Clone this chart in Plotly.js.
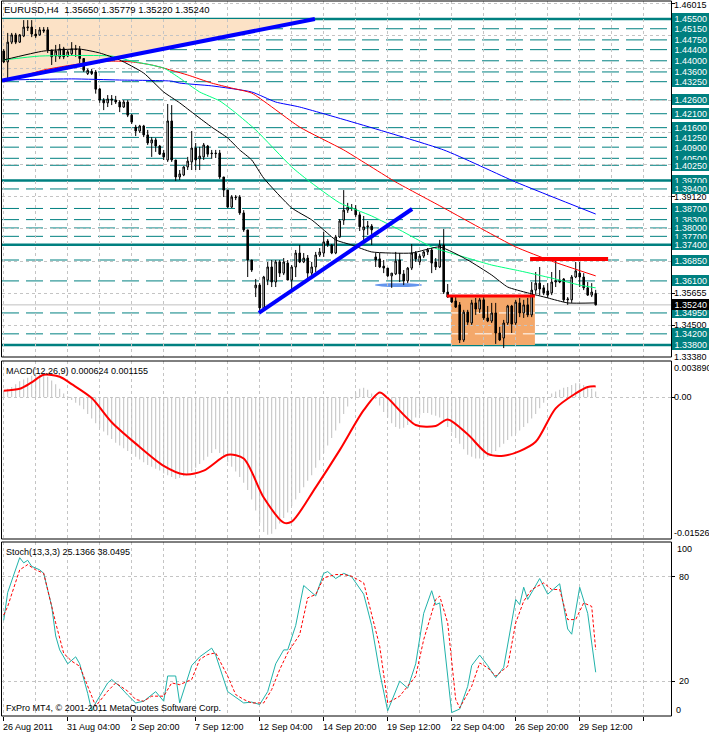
<!DOCTYPE html>
<html><head><meta charset="utf-8">
<script src="https://cdn.plot.ly/plotly-3.0.1.min.js"></script>
<style>html,body{margin:0;padding:0;background:#fff;}#chart{width:709px;height:734px;}</style>
</head><body><div id="chart"></div>
<script>
// ---------------- DATA ----------------
const title = "EURUSD,H4  1.35650 1.35779 1.35220 1.35240";
const macdTitle = "MACD(12,26,9) 0.000624 0.001155";
const stochTitle = "Stoch(13,3,3) 25.1366 38.0495";
const copyright = "FxPro MT4, \u00a9 2001-2011 MetaQuotes Software Corp.";

const timeTickIdx = [0,16,32,48,64,80,96,112,128,144];
const timeTickLabels = ["26 Aug 2011","31 Aug 04:00","2 Sep 20:00","7 Sep 12:00","12 Sep 04:00","14 Sep 20:00","19 Sep 12:00","22 Sep 04:00","26 Sep 20:00","29 Sep 12:00"];

const open = [
1.4435,1.4396,1.4467,1.4493,1.4467,1.4489,1.4518,1.4521,1.4496,1.4493,
1.4511,1.4511,1.4439,1.4417,1.4414,1.4443,1.4417,1.4425,1.4442,1.4441,
1.4408,1.4354,1.4362,1.4360,1.4299,1.4259,1.4249,1.4263,1.4259,1.4252,
1.4234,1.4252,1.4205,1.4162,1.4148,1.4166,1.4134,1.4105,1.4116,1.4094,
1.4069,1.4044,1.4184,1.4044,1.3983,1.3990,1.4019,1.4037,1.4087,1.4048,
1.4055,1.4094,1.4069,1.4069,1.4069,1.3983,1.3936,1.3875,1.3911,1.3911,
1.3854,1.3793,1.3685,1.3585,1.3595,1.3513,1.3613,1.3660,1.3606,1.3678,
1.3638,1.3674,1.3613,1.3660,1.3710,1.3678,1.3692,1.3638,1.3660,1.3703,
1.3710,1.3753,1.3739,1.3710,1.3768,1.3828,1.3864,1.3872,1.3868,1.3847,
1.3793,1.3804,1.3807,1.3696,1.3689,1.3663,1.3656,1.3628,1.3635,1.3685,
1.3635,1.3610,1.3656,1.3710,1.3678,1.3699,1.3714,1.3721,1.3678,1.3660,
1.3739,1.3570,1.3552,1.3538,1.3524,1.3398,1.3498,1.3459,1.3531,1.3509,
1.3542,1.3477,1.3466,1.3495,1.3423,1.3405,1.3459,1.3520,1.3459,1.3531,
1.3495,1.3524,1.3488,1.3577,1.3602,1.3585,1.3574,1.3567,1.3606,1.3613,
1.3617,1.3542,1.3542,1.3624,1.3638,1.3624,1.3585,1.3559,1.3565];
const high = [
1.4442,1.4500,1.4500,1.4500,1.4496,1.4546,1.4546,1.4546,1.4514,1.4521,
1.4521,1.4521,1.4439,1.4457,1.4460,1.4450,1.4439,1.4467,1.4457,1.4453,
1.4410,1.4372,1.4371,1.4367,1.4302,1.4266,1.4277,1.4277,1.4274,1.4259,
1.4259,1.4259,1.4209,1.4170,1.4170,1.4170,1.4152,1.4126,1.4123,1.4098,
1.4080,1.4245,1.4241,1.4044,1.4008,1.4022,1.4055,1.4148,1.4105,1.4091,
1.4105,1.4098,1.4080,1.4080,1.4080,1.3983,1.3936,1.3918,1.3918,1.3918,
1.3864,1.3793,1.3685,1.3617,1.3602,1.3628,1.3678,1.3685,1.3685,1.3685,
1.3692,1.3685,1.3667,1.3721,1.3739,1.3710,1.3703,1.3678,1.3714,1.3728,
1.3786,1.3760,1.3742,1.3775,1.3832,1.3936,1.3890,1.3886,1.3882,1.3857,
1.3843,1.3825,1.3814,1.3710,1.3710,1.3685,1.3656,1.3638,1.3714,1.3710,
1.3649,1.3660,1.3742,1.3717,1.3706,1.3717,1.3728,1.3728,1.3692,1.3757,
1.3796,1.3599,1.3559,1.3556,1.3534,1.3506,1.3506,1.3542,1.3549,1.3549,
1.3552,1.3520,1.3531,1.3531,1.3445,1.3470,1.3524,1.3524,1.3542,1.3549,
1.3542,1.3549,1.3606,1.3642,1.3660,1.3595,1.3602,1.3642,1.3685,1.3649,
1.3620,1.3552,1.3631,1.3678,1.3678,1.3638,1.3606,1.3602,1.35779];
const low = [
1.4392,1.4331,1.4460,1.4460,1.4464,1.4485,1.4507,1.4485,1.4482,1.4490,
1.4500,1.4428,1.4385,1.4396,1.4406,1.4406,1.4414,1.4421,1.4414,1.4392,
1.4360,1.4349,1.4349,1.4282,1.4249,1.4223,1.4234,1.4241,1.4245,1.4216,
1.4231,1.4198,1.4173,1.4130,1.4141,1.4126,1.4098,1.4055,1.4073,1.4062,
1.4044,1.4037,1.4037,1.3969,1.3972,1.3986,1.4008,1.4008,1.4008,1.4008,
1.4044,1.4055,1.4048,1.4051,1.3976,1.3911,1.3872,1.3872,1.3900,1.3847,
1.3786,1.3624,1.3642,1.3552,1.3495,1.3509,1.3595,1.3588,1.3588,1.3624,
1.3631,1.3613,1.3570,1.3624,1.3674,1.3674,1.3613,1.3624,1.3642,1.3696,
1.3696,1.3732,1.3706,1.3706,1.3764,1.3811,1.3854,1.3861,1.3839,1.3789,
1.3746,1.3775,1.3739,1.3660,1.3656,1.3638,1.3624,1.3585,1.3631,1.3606,
1.3595,1.3602,1.3649,1.3678,1.3667,1.3692,1.3703,1.3638,1.3649,1.3656,
1.3563,1.3549,1.3531,1.3513,1.3387,1.3391,1.3452,1.3452,1.3488,1.3495,
1.3470,1.3462,1.3459,1.3384,1.3394,1.3369,1.3452,1.3423,1.3452,1.3480,
1.3477,1.3480,1.3480,1.3563,1.3559,1.3559,1.3549,1.3559,1.3588,1.3602,
1.3534,1.3524,1.3531,1.3620,1.3588,1.3577,1.3556,1.3552,1.3522];
const close = [
1.4396,1.4467,1.4493,1.4467,1.4493,1.4521,1.4521,1.4496,1.4489,1.4511,
1.4507,1.4439,1.4414,1.4435,1.4443,1.4414,1.4432,1.4443,1.4441,1.4408,
1.4366,1.4366,1.4354,1.4298,1.4259,1.4249,1.4263,1.4259,1.4252,1.4234,
1.4252,1.4205,1.4180,1.4148,1.4166,1.4134,1.4105,1.4116,1.4094,1.4065,
1.4055,1.4184,1.4044,1.3983,1.3994,1.4019,1.4040,1.4087,1.4044,1.4058,
1.4098,1.4065,1.4067,1.4067,1.3983,1.3936,1.3875,1.3911,1.3909,1.3854,
1.3793,1.3685,1.3649,1.3595,1.3513,1.3624,1.3660,1.3606,1.3678,1.3638,
1.3678,1.3613,1.3660,1.3710,1.3678,1.3692,1.3638,1.3660,1.3703,1.3714,
1.3750,1.3739,1.3710,1.3768,1.3825,1.3864,1.3875,1.3870,1.3847,1.3804,
1.3804,1.3807,1.3793,1.3685,1.3660,1.3656,1.3628,1.3638,1.3681,1.3635,
1.3610,1.3656,1.3710,1.3689,1.3699,1.3714,1.3721,1.3674,1.3660,1.3739,
1.3570,1.3552,1.3534,1.3516,1.3398,1.3498,1.3462,1.3531,1.3509,1.3542,
1.3477,1.3466,1.3495,1.3423,1.3398,1.3459,1.3520,1.3455,1.3534,1.3495,
1.3524,1.3488,1.3577,1.3602,1.3581,1.3567,1.3559,1.3606,1.3610,1.3606,
1.3542,1.3545,1.3624,1.3646,1.3624,1.3585,1.3559,1.3570,1.3524];

// moving averages (bar index, price)
const maBlackX = [0,10,19,24,29,35,40,44,48,52,56,59,62,65,72,77,80,83,87,92,102,109,116,122,126,131,136,141,148];
const maBlackY = [1.4403,1.4435,1.4442,1.4428,1.4403,1.4356,1.4288,1.4249,1.4205,1.4162,1.4123,1.4080,1.4044,1.3979,1.3872,1.3829,1.3793,1.3757,1.3739,1.3714,1.3710,1.3732,1.3685,1.3631,1.3588,1.3567,1.3549,1.3531,1.3531];
const maGreenX = [0,9,27,32,40,44,49,54,58,63,72,76,84,92,99,107,116,122,129,137,144,148];
const maGreenY = [1.4403,1.4417,1.4417,1.4399,1.4374,1.4338,1.4288,1.4256,1.4213,1.4152,1.4019,1.3972,1.3890,1.3843,1.3793,1.3732,1.3692,1.3667,1.3646,1.3620,1.3595,1.3585];
const maRedX = [0,10,19,27,32,37,46,52,57,62,74,85,98,110,120,128,137,148];
const maRedY = [1.4324,1.4367,1.4389,1.4399,1.4396,1.4385,1.4349,1.4320,1.4302,1.4284,1.4162,1.4080,1.3965,1.3872,1.3793,1.3732,1.3681,1.3628];
const maBlueX = [0,17,29,42,44,52,62,68,74,110,128,148];
const maBlueY = [1.4331,1.4335,1.4331,1.4327,1.4320,1.4310,1.4288,1.4252,1.4234,1.4080,1.3965,1.3850];

// MACD histogram per bar, signal line points
const macdHist = [
0.0007,0.0009,0.0011,0.0014,0.0017,0.0019,0.0021,0.0023,0.0025,0.0026,
0.0025,0.0022,0.0018,0.0014,0.0009,0.0004,0.0001,-0.0003,-0.0006,-0.0009,
-0.0013,-0.0018,-0.0023,-0.0028,-0.0033,-0.0037,-0.0041,-0.0045,-0.0049,-0.0052,
-0.0055,-0.0058,-0.0061,-0.0064,-0.0067,-0.0070,-0.0073,-0.0075,-0.0077,-0.0079,
-0.0082,-0.0084,-0.0086,-0.0088,-0.0087,-0.0085,-0.0083,-0.0080,-0.0076,-0.0072,
-0.0068,-0.0064,-0.0060,-0.0056,-0.0060,-0.0065,-0.0070,-0.0075,-0.0080,-0.0086,
-0.0092,-0.0100,-0.0110,-0.0122,-0.0135,-0.0145,-0.0148,-0.0147,-0.0142,-0.0136,
-0.0130,-0.0124,-0.0117,-0.0110,-0.0103,-0.0097,-0.0090,-0.0084,-0.0076,-0.0068,
-0.0060,-0.0052,-0.0044,-0.0036,-0.0028,-0.0018,-0.0010,-0.0002,0.0005,0.0009,
0.0010,0.0008,0.0004,-0.0002,-0.0009,-0.0016,-0.0022,-0.0028,-0.0032,-0.0034,
-0.0033,-0.0030,-0.0026,-0.0022,-0.0019,-0.0017,-0.0017,-0.0019,-0.0020,-0.0022,
-0.0026,-0.0032,-0.0038,-0.0044,-0.0050,-0.0056,-0.0062,-0.0064,-0.0066,-0.0066,
-0.0066,-0.0064,-0.0061,-0.0058,-0.0054,-0.0050,-0.0046,-0.0042,-0.0039,-0.0036,
-0.0032,-0.0028,-0.0023,-0.0018,-0.0012,-0.0006,-0.0001,0.0004,0.0006,0.0008,
0.0010,0.0011,0.0013,0.0015,0.0015,0.0013,0.0011,0.0009,0.0006];
const signalX = [0,4,7,10,14,17,22,27,33,40,45,50,56,60,65,70,72,78,84,90,94,96,103,108,111,116,121,125,129,133,138,143,146,148];
const signalY = [0.0007,0.0009,0.0016,0.0024,0.0022,0.0014,-0.0001,-0.0027,-0.0050,-0.0074,-0.0083,-0.0079,-0.0062,-0.0066,-0.0108,-0.0135,-0.0134,-0.0097,-0.0057,-0.0014,0.0005,-0.0001,-0.0030,-0.0031,-0.0024,-0.0040,-0.0061,-0.0063,-0.0058,-0.0048,-0.0012,0.0004,0.0011,0.00116];

// Stochastic %K and %D
const stochKX = [0,1,4,5,6,7,9,10,12,13,14,16,18,19,21,22,23,26,27,29,31,33,35,38,40,41,43,44,47,49,52,53,56,58,60,62,64,66,68,70,71,73,75,76,78,80,81,83,85,87,90,92,94,96,99,101,103,105,107,108,109,112,114,116,117,119,121,123,125,128,129,130,131,134,136,139,141,142,144,146,148];
const stochKY = [55,71,91,88,89.5,86,84,82,63,46,38,30,34,30,13,3,7.5,19,21,17,12,7.5,8.5,14,8.5,23,23,7.5,29,34,39,35,14,11,7.5,8,6.6,14,30,38,38,52,75,73,69,82,83,79,82,80,70,52,25,3,20,16,30,59,72,64,65,2,4,17,29,35,29,22,28,67,64,74,67,79,70,76,50,47,74,59,25.1366];
const stochDX = [0,1,4,6,8,10,13,15,17,19,22,23,26,28,31,33,35,37,40,42,44,47,49,51,53,56,58,60,62,65,67,69,71,74,76,78,80,83,85,87,90,92,94,96,99,101,103,105,108,109,111,113,114,117,119,121,123,126,128,130,132,135,137,139,141,143,145,147,148];
const stochDY = [58,63,84,87,84,82,53.5,36,31.5,28.6,11.4,5.6,14.3,19,14.3,9.5,8.5,11.4,11.4,19,18,21,32.5,35.3,36.3,22.9,12.3,9.5,7.5,7.5,15.2,26.7,36.3,46.8,67.9,69.8,79.4,81.3,81.3,80.3,76.5,57.4,40.1,7.5,11.4,17.1,22.9,43.9,66.9,68.9,53.5,9.5,4.7,17.1,30.5,27.7,22.9,28.6,53.5,66,72.7,76.5,72.7,72.7,55.4,55.4,65,63,38.0495];

// horizontal levels (teal)
const solidLevels = [1.4550,1.3970,1.3740,1.3380];
const dashedLevels = [1.4515,1.4475,1.4440,1.4400,1.4360,1.4325,1.4260,1.4210,1.4160,1.4125,1.4090,1.4050,1.4025,1.3940,1.3870,1.3830,1.3800,1.3770,1.3685,1.3610,1.3495,1.3420];
const gridPrices = [1.3450,1.35655,1.3681,1.37965,1.3912,1.40275,1.4143,1.42585,1.4374,1.44895,1.4605];
const gridPriceLabels = [1.46015,1.39120,1.35655,1.34500,1.33380];
const bidPrice = 1.35240;

// drawn objects (bar index / price)
const trend1X = [-0.425,77.8], trend1Y = [1.4329,1.4550];
const trend2X = [63.8,102.1], trend2Y = [1.3495,1.3868];
const ellipseX = [92.8,104.6], ellipseY = [1.3588,1.3602];
const redLineTopX = [131.6,151.1], redLineTopY = 1.3689;
const boxX = [111.8,132.8], boxY = [1.3380,1.3559];
const redLineBoxX = [110.8,132.8], redLineBoxY = 1.3556;

// ---------------- DRAW ----------------
const W = 709, H = 734;
const px = x => x / W, py = y => 1 - y / H;
const FONT = "Liberation Sans, Arial, sans-serif";
const idx = open.map((_, i) => i);
const GRID = '#C4C4C4';

const traces = [
  {type:'candlestick', x: idx, open, high, low, close, xaxis:'x', yaxis:'y',
   increasing:{line:{color:'#000', width:1}, fillcolor:'#fff'},
   decreasing:{line:{color:'#000', width:1}, fillcolor:'#000'},
   whiskerwidth:0, hoverinfo:'skip', showlegend:false},
  {type:'scatter', mode:'lines', x: maBlueX, y: maBlueY, line:{color:'#0000FF', width:1, shape:'spline', smoothing:0.5}, hoverinfo:'skip', showlegend:false},
  {type:'scatter', mode:'lines', x: maRedX, y: maRedY, line:{color:'#FF0000', width:1, shape:'spline', smoothing:0.5}, hoverinfo:'skip', showlegend:false},
  {type:'scatter', mode:'lines', x: maGreenX, y: maGreenY, line:{color:'#00FF7F', width:1, shape:'spline', smoothing:0.5}, hoverinfo:'skip', showlegend:false},
  {type:'scatter', mode:'lines', x: maBlackX, y: maBlackY, line:{color:'#000000', width:1, shape:'spline', smoothing:0.5}, hoverinfo:'skip', showlegend:false},
  {type:'bar', x: idx, y: macdHist, width:0.25, marker:{color:'#C0C0C0', line:{width:0}}, xaxis:'x', yaxis:'y2', hoverinfo:'skip', showlegend:false},
  {type:'scatter', mode:'lines', x: signalX, y: signalY, xaxis:'x', yaxis:'y2', line:{color:'#FF0000', width:2, shape:'spline', smoothing:0.8}, hoverinfo:'skip', showlegend:false},
  {type:'scatter', mode:'lines', x: stochKX, y: stochKY, xaxis:'x', yaxis:'y3', line:{color:'#20B2AA', width:1}, hoverinfo:'skip', showlegend:false},
  {type:'scatter', mode:'lines', x: stochDX, y: stochDY, xaxis:'x', yaxis:'y3', line:{color:'#FF0000', width:1, dash:'3px,2px'}, hoverinfo:'skip', showlegend:false}
];

const shapes = [];
// peach triangle
shapes.push({type:'path', xref:'x', yref:'y', layer:'below',
  path:`M ${trend1X[0]},${solidLevels[0]} L ${trend1X[1]},${solidLevels[0]} L ${trend1X[0]},${trend1Y[0]} Z`,
  fillcolor:'#FCE2C6', line:{width:0}});
// orange box
shapes.push({type:'rect', xref:'x', yref:'y', layer:'below', x0:boxX[0], x1:boxX[1], y0:boxY[0], y1:boxY[1], fillcolor:'#F4A86A', line:{width:0}});
// blue ellipse
shapes.push({type:'circle', xref:'x', yref:'y', layer:'below', x0:ellipseX[0], x1:ellipseX[1], y0:ellipseY[0], y1:ellipseY[1], fillcolor:'#6495ED', line:{width:0}});
// teal levels
dashedLevels.forEach(v => shapes.push({type:'line', xref:'paper', yref:'y', layer:'below', x0:px(2), x1:px(671), y0:v, y1:v, line:{color:'#008080', width:1, dash:'17px,7px'}}));
dashedLevels.forEach(v => { if (v < boxY[1] && v > boxY[0]) shapes.push({type:'line', xref:'x', yref:'y', layer:'below', x0:boxX[0], x1:boxX[1], y0:v, y1:v, line:{color:'#FFFFFF', width:1, dash:'17px,7px'}}); });
solidLevels.forEach(v => shapes.push({type:'line', xref:'paper', yref:'y', layer:'below', x0:px(2), x1:px(671), y0:v, y1:v, line:{color:'#008080', width:2.5}}));
// bid line
shapes.push({type:'line', xref:'paper', yref:'y', layer:'below', x0:px(2), x1:px(671), y0:bidPrice, y1:bidPrice, line:{color:'#C0C0C0', width:1}});
// red lines
shapes.push({type:'line', xref:'x', yref:'y', layer:'above', x0:redLineTopX[0], x1:redLineTopX[1], y0:redLineTopY, y1:redLineTopY, line:{color:'#FF0000', width:4}});
shapes.push({type:'line', xref:'x', yref:'y', layer:'above', x0:redLineBoxX[0], x1:redLineBoxX[1], y0:redLineBoxY, y1:redLineBoxY, line:{color:'#FF0000', width:3}});
// blue trend lines
shapes.push({type:'line', xref:'x', yref:'y', layer:'above', x0:trend1X[0], x1:trend1X[1], y0:trend1Y[0], y1:trend1Y[1], line:{color:'#0000FF', width:4}});
shapes.push({type:'line', xref:'x', yref:'y', layer:'above', x0:trend2X[0], x1:trend2X[1], y0:trend2Y[0], y1:trend2Y[1], line:{color:'#0000FF', width:4}});
// frames
[[1,357],[361,539],[542,716]].forEach(([t,b]) => shapes.push({type:'rect', xref:'paper', yref:'paper', layer:'above', x0:px(1.5), x1:px(671.5), y0:py(b), y1:py(t), line:{color:'#000', width:1}, fillcolor:'rgba(0,0,0,0)'}));

const annotations = [];
const txt = (x, y, text, extra) => Object.assign({xref:'paper', yref:'paper', x:px(x), y:py(y), xanchor:'left', yanchor:'middle', text, showarrow:false, font:{family:FONT, size:9, color:'#000'}, borderpad:0, borderwidth:0}, extra||{});
annotations.push(txt(4, 10, title, {font:{family:FONT, size:9.5, color:'#000'}}));
annotations.push(txt(6, 371, macdTitle));
annotations.push(txt(6, 552, stochTitle));
annotations.push(txt(6, 708, copyright));
// time labels
timeTickIdx.forEach((t, k) => annotations.push({xref:'x', yref:'paper', x:t, y:py(727), xanchor:'left', yanchor:'middle', xshift:-1, text:timeTickLabels[k], showarrow:false, font:{family:FONT, size:9, color:'#000'}, borderpad:0, borderwidth:0}));
// price grid labels (black)
gridPriceLabels.forEach(v => annotations.push({xref:'paper', yref:'y', x:px(674), y:v, xanchor:'left', yanchor:'middle', text:v.toFixed(5), showarrow:false, font:{family:FONT, size:9, color:'#000'}, borderpad:0, borderwidth:0}));
// teal level labels
[...solidLevels, ...dashedLevels].sort((a,b)=>b-a).forEach(v => annotations.push({xref:'paper', yref:'y', x:px(672), y:v, xanchor:'left', yanchor:'middle', width:37, height:11, align:'left', text:'\u00a0'+v.toFixed(5), showarrow:false, bgcolor:'#008080', font:{family:FONT, size:9, color:'#fff'}, borderpad:0, borderwidth:0}));
// bid label
annotations.push({xref:'paper', yref:'y', x:px(672), y:bidPrice, xanchor:'left', yanchor:'middle', width:37, height:11, align:'left', text:'\u00a0'+bidPrice.toFixed(5), showarrow:false, bgcolor:'#000', font:{family:FONT, size:9, color:'#fff'}, borderpad:0, borderwidth:0});
// MACD & stoch scale labels
annotations.push(txt(674, 368, '0.003890'));
annotations.push(txt(674, 397, '0.00'));
annotations.push(txt(674, 533, '-0.015260'));
annotations.push(txt(677, 549, '100'));
annotations.push(txt(679, 577, '80'));
annotations.push(txt(679, 681, '20'));
annotations.push(txt(676, 710, '0'));

const layout = {
  width: W, height: H, margin:{l:0, r:0, t:0, b:0},
  paper_bgcolor:'#fff', plot_bgcolor:'#fff', showlegend:false,
  boxgap: 0.45,
  font:{family:FONT, size:9, color:'#000'},
  xaxis:{domain:[px(2), px(671)], range:[-0.425, 166.825], anchor:'y3', showticklabels:false,
    tickmode:'linear', tick0:0, dtick:16, ticks:'outside', ticklen:4, tickcolor:'#000',
    showgrid:true, gridcolor:GRID, griddash:'3px,3px', gridwidth:1,
    minor:{tick0:0, dtick:8, showgrid:true, gridcolor:GRID, griddash:'3px,3px', gridwidth:1},
    zeroline:false, showline:false, rangeslider:{visible:false}, fixedrange:true},
  yaxis:{domain:[py(357), py(1)], range:[1.33369, 1.46146], side:'right', anchor:'x', showticklabels:false,
    tickmode:'array', tickvals:gridPrices, ticks:'outside', ticklen:3, tickcolor:'#000',
    showgrid:true, gridcolor:GRID, griddash:'3px,3px', zeroline:false, showline:false, fixedrange:true},
  yaxis2:{domain:[py(539), py(361)], range:[-0.01526, 0.00389], side:'right', anchor:'x', showticklabels:false,
    tickmode:'array', tickvals:[0], ticks:'outside', ticklen:3, tickcolor:'#000',
    showgrid:true, gridcolor:GRID, griddash:'3px,3px', zeroline:false, showline:false, fixedrange:true},
  yaxis3:{domain:[py(716), py(542)], range:[0, 100], side:'right', anchor:'x', showticklabels:false,
    tickmode:'array', tickvals:[20,80], ticks:'outside', ticklen:3, tickcolor:'#000',
    showgrid:true, gridcolor:GRID, griddash:'3px,3px', zeroline:false, showline:false, fixedrange:true},
  shapes, annotations
};

Plotly.newPlot('chart', traces, layout, {staticPlot:true, displayModeBar:false});
</script></body></html>
